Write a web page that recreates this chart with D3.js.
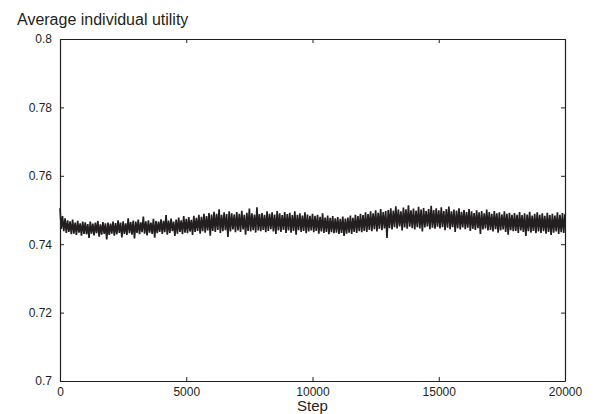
<!DOCTYPE html>
<html>
<head>
<meta charset="utf-8">
<script src="https://cdn.jsdelivr.net/npm/d3@7"></script>
<style>
  body { margin: 0; background: #fff; }
  text { font-family: "Liberation Sans", Arial, sans-serif; fill: #231f20; }
</style>
</head>
<body>
<div id="chart"></div>
<script>
const width = 596;
const height = 414;
const margin = {top: 39, right: 31, bottom: 33, left: 60};

// x ticks (steps) and y ticks (utility)
const x_ticks = [0, 5000, 10000, 15000, 20000];
const y_ticks = [0.7, 0.72, 0.74, 0.76, 0.78, 0.8];
const step_size = 50; // one value every 50 steps, read as local highs/lows

// average individual utility, step 0 .. 20000
const utility = [
  0.7505, 0.7445, 0.7482, 0.7438, 0.7476, 0.7433, 0.7470, 0.7436, 0.7467, 0.7429, 0.7472, 0.7431, 0.7463, 0.7427, 0.7468, 0.7434, 0.7461, 0.7425, 0.7466, 0.7430,
  0.7464, 0.7429, 0.7459, 0.7418, 0.7466, 0.7431, 0.7460, 0.7426, 0.7463, 0.7432, 0.7468, 0.7422, 0.7458, 0.7428, 0.7465, 0.7430, 0.7461, 0.7414, 0.7463, 0.7427,
  0.7460, 0.7431, 0.7466, 0.7425, 0.7462, 0.7429, 0.7470, 0.7433, 0.7463, 0.7420, 0.7467, 0.7430, 0.7461, 0.7427, 0.7476, 0.7432, 0.7465, 0.7428, 0.7469, 0.7417,
  0.7466, 0.7433, 0.7472, 0.7429, 0.7464, 0.7435, 0.7481, 0.7431, 0.7467, 0.7426, 0.7470, 0.7434, 0.7463, 0.7430, 0.7474, 0.7419, 0.7468, 0.7432, 0.7466, 0.7436,
  0.7473, 0.7430, 0.7468, 0.7435, 0.7485, 0.7428, 0.7469, 0.7433, 0.7475, 0.7438, 0.7466, 0.7424, 0.7472, 0.7431, 0.7478, 0.7436, 0.7470, 0.7429, 0.7482, 0.7434,
  0.7474, 0.7432, 0.7479, 0.7437, 0.7471, 0.7427, 0.7483, 0.7436, 0.7477, 0.7439, 0.7486, 0.7431, 0.7480, 0.7438, 0.7489, 0.7434, 0.7482, 0.7440, 0.7491, 0.7425,
  0.7487, 0.7439, 0.7495, 0.7436, 0.7489, 0.7442, 0.7502, 0.7433, 0.7486, 0.7438, 0.7493, 0.7441, 0.7488, 0.7421, 0.7496, 0.7437, 0.7490, 0.7443, 0.7487, 0.7435,
  0.7494, 0.7440, 0.7489, 0.7436, 0.7498, 0.7443, 0.7486, 0.7428, 0.7492, 0.7439, 0.7504, 0.7437, 0.7490, 0.7441, 0.7487, 0.7434, 0.7508, 0.7440, 0.7488, 0.7438,
  0.7491, 0.7442, 0.7486, 0.7435, 0.7496, 0.7439, 0.7489, 0.7444, 0.7493, 0.7437, 0.7487, 0.7430, 0.7497, 0.7440, 0.7490, 0.7436, 0.7485, 0.7442, 0.7494, 0.7433,
  0.7488, 0.7440, 0.7492, 0.7434, 0.7485, 0.7439, 0.7496, 0.7428, 0.7486, 0.7441, 0.7490, 0.7436, 0.7484, 0.7439, 0.7493, 0.7432, 0.7487, 0.7437, 0.7483, 0.7440,
  0.7489, 0.7435, 0.7483, 0.7439, 0.7486, 0.7431, 0.7480, 0.7437, 0.7490, 0.7433, 0.7478, 0.7436, 0.7484, 0.7429, 0.7477, 0.7435, 0.7482, 0.7432, 0.7476, 0.7434,
  0.7479, 0.7430, 0.7474, 0.7433, 0.7481, 0.7424, 0.7475, 0.7431, 0.7478, 0.7434, 0.7484, 0.7430, 0.7477, 0.7436, 0.7486, 0.7433, 0.7482, 0.7438, 0.7489, 0.7435,
  0.7485, 0.7439, 0.7493, 0.7436, 0.7488, 0.7442, 0.7496, 0.7438, 0.7490, 0.7444, 0.7499, 0.7437, 0.7492, 0.7445, 0.7503, 0.7441, 0.7494, 0.7446, 0.7497, 0.7418,
  0.7500, 0.7447, 0.7505, 0.7443, 0.7498, 0.7450, 0.7511, 0.7446, 0.7501, 0.7452, 0.7496, 0.7440, 0.7507, 0.7449, 0.7502, 0.7445, 0.7514, 0.7451, 0.7499, 0.7447,
  0.7504, 0.7443, 0.7498, 0.7450, 0.7509, 0.7446, 0.7501, 0.7437, 0.7506, 0.7449, 0.7497, 0.7452, 0.7503, 0.7444, 0.7512, 0.7448, 0.7500, 0.7445, 0.7505, 0.7451,
  0.7499, 0.7446, 0.7508, 0.7450, 0.7497, 0.7441, 0.7503, 0.7448, 0.7510, 0.7444, 0.7496, 0.7450, 0.7501, 0.7436, 0.7498, 0.7447, 0.7505, 0.7443, 0.7495, 0.7449,
  0.7500, 0.7444, 0.7494, 0.7448, 0.7503, 0.7439, 0.7496, 0.7445, 0.7491, 0.7442, 0.7499, 0.7447, 0.7493, 0.7430, 0.7497, 0.7443, 0.7490, 0.7446, 0.7501, 0.7440,
  0.7494, 0.7442, 0.7489, 0.7437, 0.7497, 0.7444, 0.7490, 0.7434, 0.7493, 0.7440, 0.7487, 0.7443, 0.7496, 0.7436, 0.7489, 0.7428, 0.7492, 0.7441, 0.7486, 0.7438,
  0.7491, 0.7439, 0.7486, 0.7433, 0.7494, 0.7440, 0.7485, 0.7436, 0.7490, 0.7424, 0.7487, 0.7438, 0.7495, 0.7434, 0.7484, 0.7439, 0.7489, 0.7432, 0.7493, 0.7437,
  0.7486, 0.7433, 0.7490, 0.7438, 0.7483, 0.7431, 0.7492, 0.7436, 0.7485, 0.7427, 0.7489, 0.7434, 0.7484, 0.7437, 0.7493, 0.7430, 0.7486, 0.7435, 0.7491, 0.7433,
  0.7488
];

const svg = d3.select("#chart")
  .append("svg")
  .attr("width", width)
  .attr("height", height);

const x = d3.scaleLinear().domain([0, 20000]).range([margin.left, width - margin.right]);
const y = d3.scaleLinear().domain([0.7, 0.8]).range([height - margin.bottom, margin.top]);

const ink = "#231f20";

// the series
const line = d3.line()
  .x(function(d, i) { return x(i * step_size); })
  .y(function(d) { return y(d); });

svg.append("path")
  .datum(utility)
  .attr("d", line)
  .attr("fill", "none")
  .attr("stroke", ink)
  .attr("stroke-width", 1.7)
  .attr("stroke-linejoin", "bevel");

// axes: box with inward ticks on all four sides
const fmt = d3.format("");
const bottomAxis = d3.axisBottom(x).tickValues(x_ticks).tickSizeInner(-4).tickSizeOuter(0).tickPadding(6).tickFormat(fmt);
const topAxis = d3.axisTop(x).tickValues(x_ticks).tickSizeInner(-4).tickSizeOuter(0).tickFormat("");
const leftAxis = d3.axisLeft(y).tickValues(y_ticks).tickSizeInner(-4).tickSizeOuter(0).tickPadding(8).tickFormat(function(d) { return String(+d.toFixed(2)); });
const rightAxis = d3.axisRight(y).tickValues(y_ticks).tickSizeInner(-4).tickSizeOuter(0).tickFormat("");

function styleAxis(g) {
  g.select(".domain").attr("stroke", ink).attr("stroke-width", 1.2);
  g.selectAll(".tick line").attr("stroke", ink).attr("stroke-width", 1);
  g.selectAll(".tick text").style("font-family", "Liberation Sans, Arial, sans-serif").style("font-size", "12px").attr("fill", ink);
}

svg.append("g").attr("transform", "translate(0," + (height - margin.bottom) + ")").call(bottomAxis).call(styleAxis);
svg.append("g").attr("transform", "translate(0," + margin.top + ")").call(topAxis).call(styleAxis);
svg.append("g").attr("transform", "translate(" + margin.left + ",0)").call(leftAxis).call(styleAxis);
svg.append("g").attr("transform", "translate(" + (width - margin.right) + ",0)").call(rightAxis).call(styleAxis);

// title and axis label
svg.append("text")
  .attr("x", 17)
  .attr("y", 25)
  .style("font-size", "16px")
  .text("Average individual utility");

svg.append("text")
  .attr("x", (margin.left + width - margin.right) / 2)
  .attr("y", 411)
  .attr("text-anchor", "middle")
  .style("font-size", "15px")
  .text("Step");
</script>
</body>
</html>
